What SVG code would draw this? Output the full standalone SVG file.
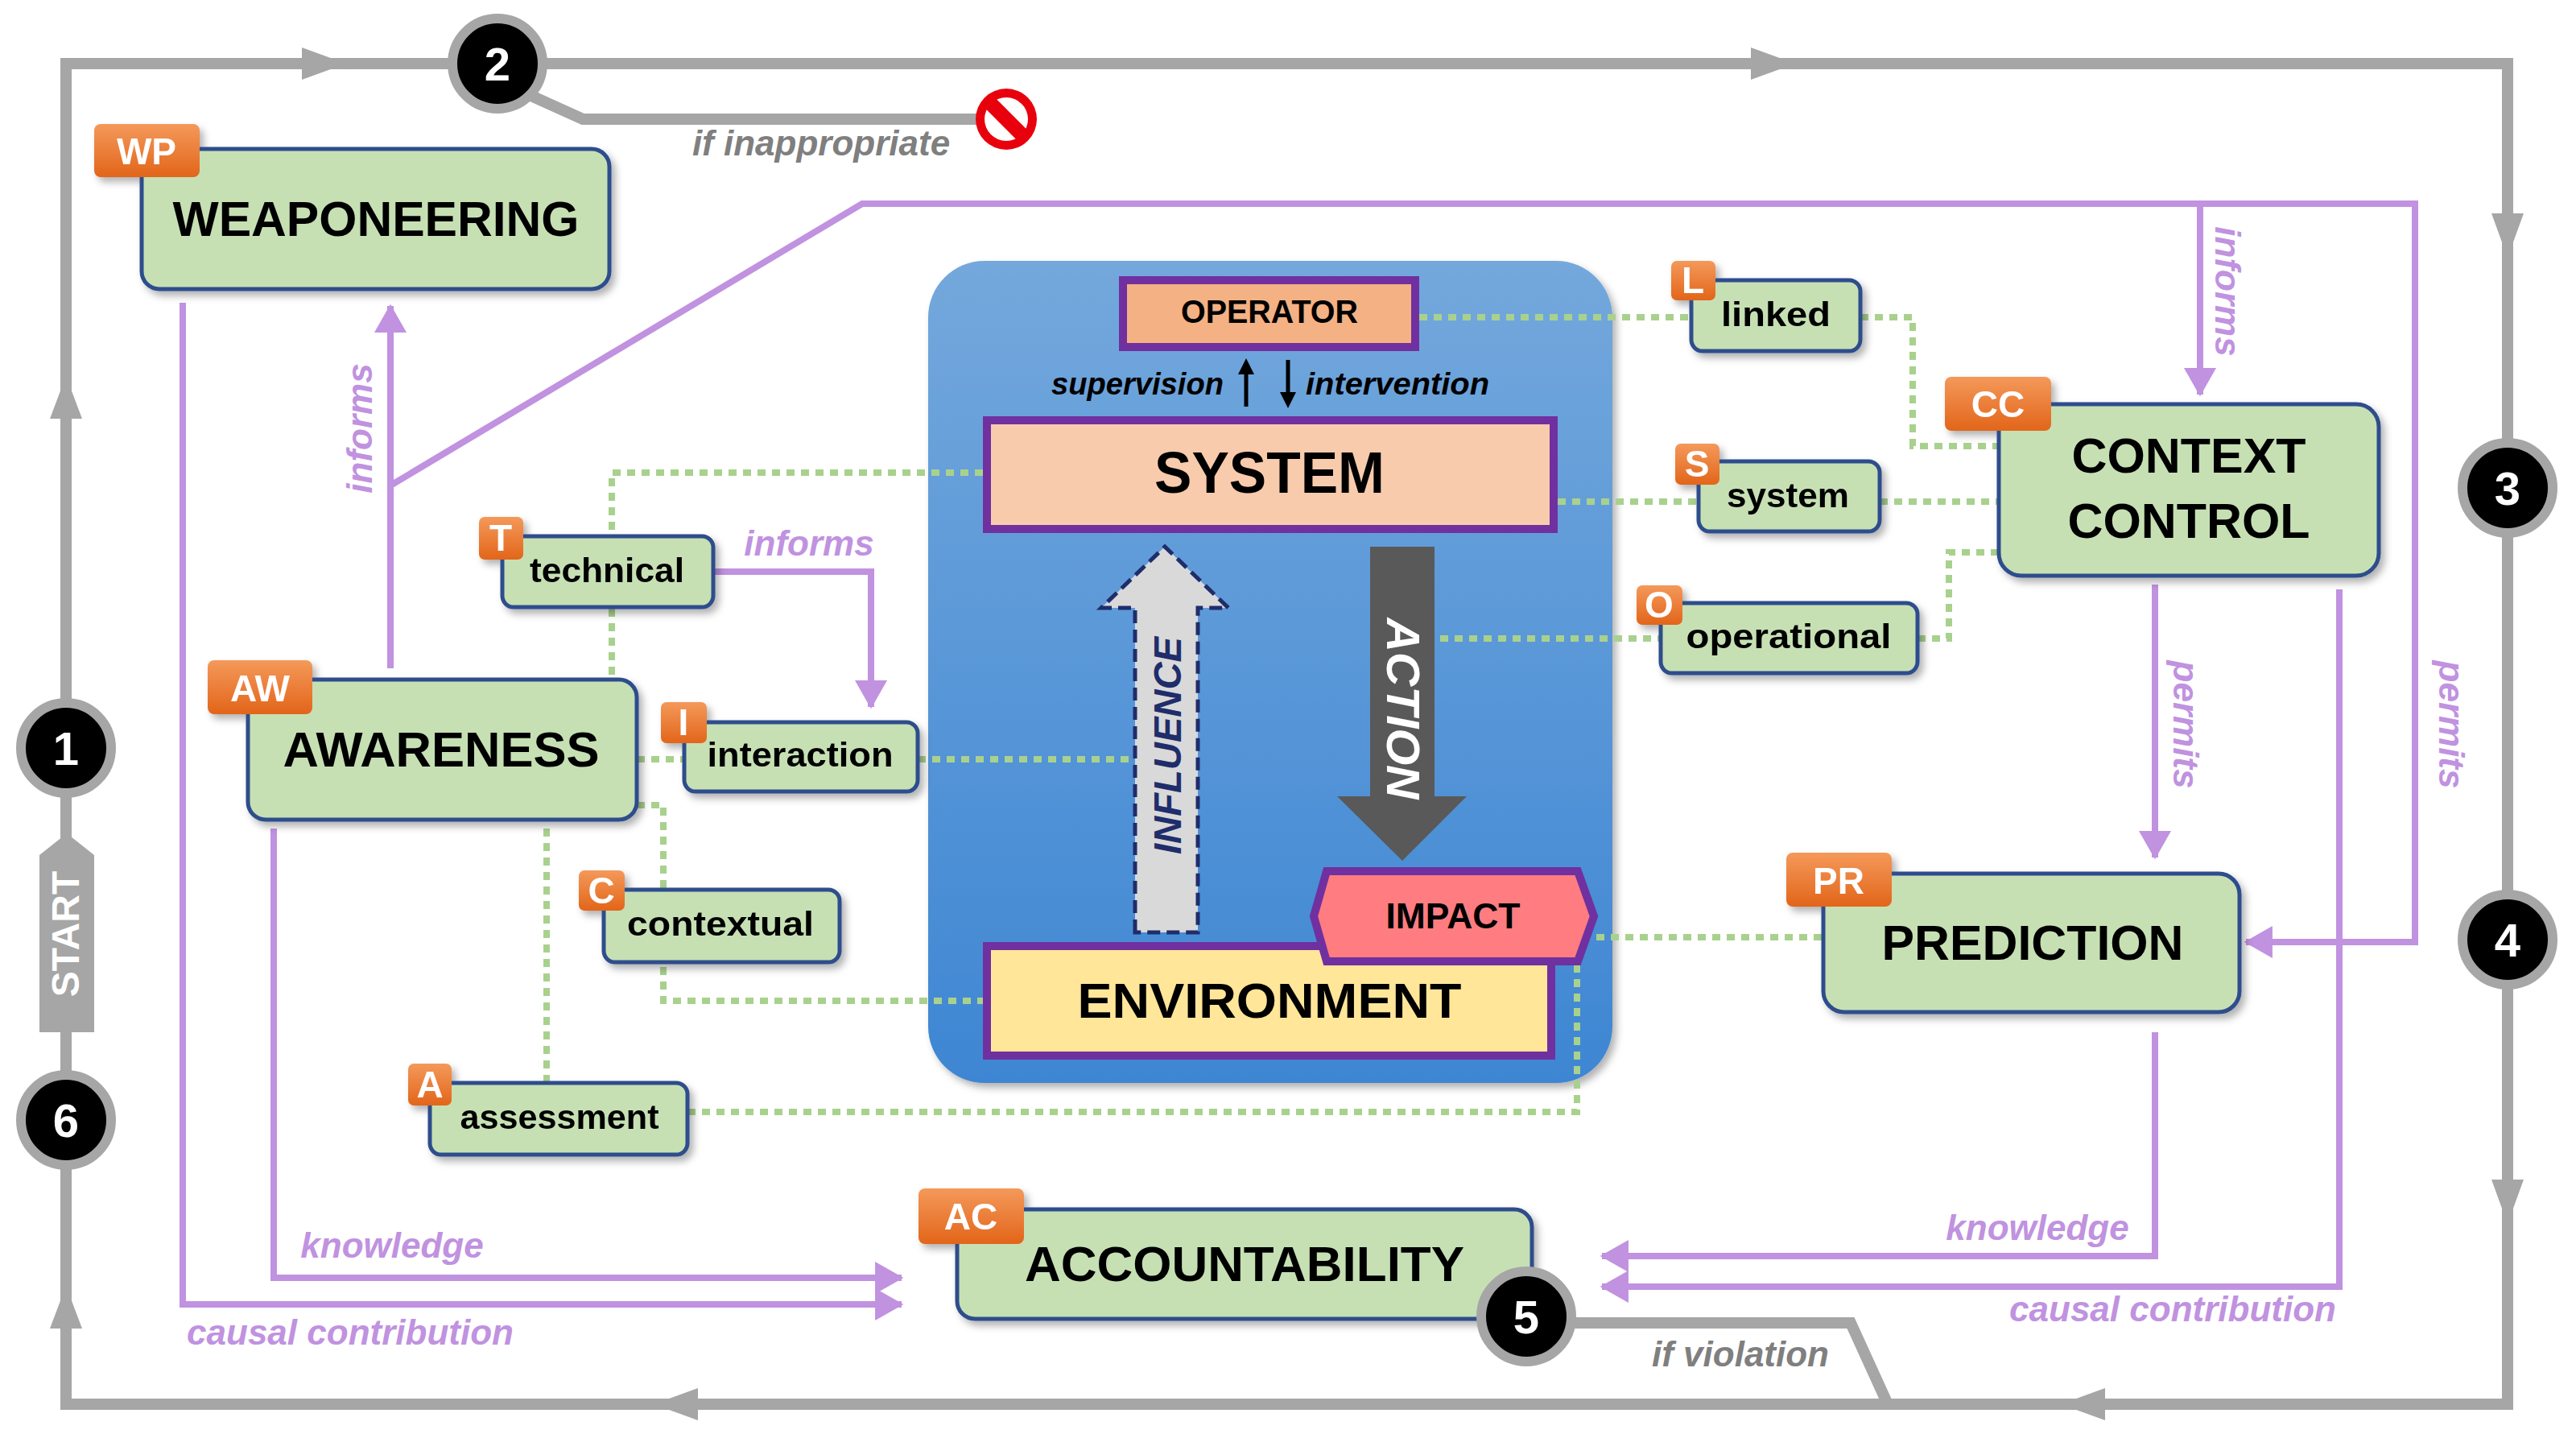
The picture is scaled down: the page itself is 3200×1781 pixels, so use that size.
<svg xmlns="http://www.w3.org/2000/svg" width="3200" height="1781" viewBox="0 0 3200 1781">
<defs>
<style>
.box{fill:#c6e0b4;stroke:#2f4d8c;stroke-width:5}
.badge{fill:url(#og)}
.bt{font-family:"Liberation Sans Narrow","Liberation Sans",sans-serif;font-weight:bold;fill:#fff;text-anchor:middle;font-size:46px}
.t{font-family:"Liberation Sans Narrow","Liberation Sans",sans-serif;font-weight:bold;fill:#000;text-anchor:middle}
.big{font-size:62px}
.sm{font-size:42px}
.pl{fill:none;stroke:#c092e0;stroke-width:8}
.pt{font-family:"Liberation Sans Narrow","Liberation Sans",sans-serif;font-weight:bold;font-style:italic;fill:#c092e0;font-size:44px;text-anchor:middle}
.gd{fill:none;stroke:#a9d18e;stroke-width:8;stroke-dasharray:10 8}
.gl{fill:none;stroke:#a6a6a6;stroke-width:14}
.ga{fill:#a6a6a6}
.gt{font-family:"Liberation Sans Narrow","Liberation Sans",sans-serif;font-weight:bold;font-style:italic;fill:#7f7f7f;font-size:44px;text-anchor:middle}
.ring{fill:#000;stroke:#a6a6a6;stroke-width:12}
.num{font-family:"Liberation Sans",sans-serif;font-weight:bold;fill:#fff;font-size:58px;text-anchor:middle}
.pb{stroke:#7030a0;stroke-width:10}
</style>
<linearGradient id="og" x1="0" y1="0" x2="0" y2="1"><stop offset="0" stop-color="#f4995a"/><stop offset="1" stop-color="#e2651a"/></linearGradient>
<linearGradient id="bg" x1="0" y1="0" x2="0" y2="1"><stop offset="0" stop-color="#74a8dc"/><stop offset="1" stop-color="#3e86d3"/></linearGradient>
<filter id="sh" x="-10%" y="-10%" width="130%" height="130%"><feDropShadow dx="5" dy="6" stdDeviation="5" flood-color="#000" flood-opacity="0.3"/></filter>
<marker id="pa" markerUnits="userSpaceOnUse" markerWidth="40" markerHeight="40" viewBox="0 0 30 34" refX="28" refY="17" orient="auto"><path d="M0,0 L30,17 L0,34 Z" fill="#c092e0"/></marker>
</defs>

<g id="frame">
<path class="gl" d="M82,1744 V79 H3115 V1744 Z"/>
<polygon class="ga" points="375,59 430,79 375,99"/>
<polygon class="ga" points="2175,59 2230,79 2175,99"/>
<polygon class="ga" points="3095,265 3135,265 3115,320"/>
<polygon class="ga" points="3095,1465 3135,1465 3115,1520"/>
<polygon class="ga" points="2615,1724 2560,1744 2615,1764"/>
<polygon class="ga" points="867,1724 812,1744 867,1764"/>
<polygon class="ga" points="62,1650 82,1597 102,1650"/>
<polygon class="ga" points="62,520 82,467 102,520"/>
<path class="gl" d="M640,110 L724,148 H1214"/>
<path class="gl" d="M1900,1643 H2299 L2345,1744"/>
<g id="noentry"><circle cx="1250" cy="148" r="38" fill="#e8000d"/><circle cx="1250" cy="148" r="27" fill="#fff"/><rect x="1216" y="139" width="68" height="18" fill="#e8000d" transform="rotate(45 1250 148)"/></g>
<text class="gt" x="1020" y="193">if inappropriate</text>
<text class="gt" x="2162" y="1697">if violation</text>
<polygon points="49,1062 83,1035 117,1062 117,1282 49,1282" fill="#a6a6a6"/>
<text x="83" y="1175" transform="rotate(-90 83 1160)" font-family="Liberation Sans,sans-serif" font-weight="bold" font-size="48" fill="#fff" text-anchor="middle">START</text>
</g>

<g id="panel"><rect x="1153" y="324" width="850" height="1021" rx="70" fill="url(#bg)" filter="url(#sh)"/></g>

<g id="connectors">
<path class="gd" d="M1221,587 H760 V844"/>
<path class="gd" d="M791,943 H850"/>
<path class="gd" d="M1140,943 H1410"/>
<path class="gd" d="M791,1000 H824 V1243 H1221"/>
<path class="gd" d="M679,1029 V1345"/>
<path class="gd" d="M854,1381 H1959 V1197"/>
<path class="gd" d="M1763,394 H2101"/>
<path class="gd" d="M2311,394 H2376 V554 H2483"/>
<path class="gd" d="M1935,623 H2110"/>
<path class="gd" d="M2335,623 H2483"/>
<path class="gd" d="M1789,793 H2063"/>
<path class="gd" d="M2382,793 H2421 V686 H2483"/>
<path class="gd" d="M1983,1164 H2265"/>
<path class="pl" d="M485,830 V380" marker-end="url(#pa)"/>
<path class="pl" d="M485,603 L1071,253 H3000 V1170 H2790" marker-end="url(#pa)"/>
<path class="pl" d="M2733,253 V490" marker-end="url(#pa)"/>
<path class="pl" d="M886,710 H1082 V878" marker-end="url(#pa)"/>
<path class="pl" d="M227,376 V1620 H1120" marker-end="url(#pa)"/>
<path class="pl" d="M340,1029 V1587 H1120" marker-end="url(#pa)"/>
<path class="pl" d="M2677,726 V1065" marker-end="url(#pa)"/>
<path class="pl" d="M2906,732 V1598 H1990" marker-end="url(#pa)"/>
<path class="pl" d="M2677,1282 V1560 H1990" marker-end="url(#pa)"/>
<text class="pt" transform="translate(462,532) rotate(-90)">informs</text>
<text class="pt" transform="translate(2752,362) rotate(90)">informs</text>
<text class="pt" transform="translate(2700,900) rotate(90)">permits</text>
<text class="pt" transform="translate(3030,900) rotate(90)">permits</text>
<text class="pt" x="1005" y="690">informs</text>
<text class="pt" x="487" y="1562">knowledge</text>
<text class="pt" x="435" y="1670">causal contribution</text>
<text class="pt" x="2531" y="1540">knowledge</text>
<text class="pt" x="2699" y="1641">causal contribution</text>
</g>

<g id="c1"><circle class="ring" cx="82" cy="929" r="56"/><text class="num" x="82" y="950">1</text></g>
<g id="c2"><circle class="ring" cx="618" cy="79" r="56"/><text class="num" x="618" y="100">2</text></g>
<g id="c3"><circle class="ring" cx="3115" cy="606" r="56"/><text class="num" x="3115" y="627">3</text></g>
<g id="c4"><circle class="ring" cx="3115" cy="1167" r="56"/><text class="num" x="3115" y="1188">4</text></g>
<g id="c6"><circle class="ring" cx="82" cy="1391" r="56"/><text class="num" x="82" y="1412">6</text></g>

<g id="operator"><rect class="pb" x="1395" y="348" width="363" height="83" fill="#f4b183"/><text class="t" x="1577" y="401" font-size="40" textLength="220" lengthAdjust="spacingAndGlyphs">OPERATOR</text></g>
<g id="supint">
<text x="1520" y="490" font-family="Liberation Sans Narrow,Liberation Sans,sans-serif" font-weight="bold" font-style="italic" font-size="38" text-anchor="end" textLength="214" lengthAdjust="spacingAndGlyphs">supervision</text>
<text x="1622" y="490" font-family="Liberation Sans Narrow,Liberation Sans,sans-serif" font-weight="bold" font-style="italic" font-size="38" textLength="228" lengthAdjust="spacingAndGlyphs">intervention</text>
<path d="M1548,505 V462" stroke="#000" stroke-width="5"/><polygon points="1538,465 1548,445 1558,465"/>
<path d="M1600,447 V490" stroke="#000" stroke-width="5"/><polygon points="1590,487 1600,507 1610,487"/>
</g>
<g id="system"><rect class="pb" x="1226" y="522" width="704" height="135" fill="#f8cbad"/><text class="t" x="1577" y="612" font-size="72" textLength="286" lengthAdjust="spacingAndGlyphs">SYSTEM</text></g>
<g id="influence"><polygon points="1410,1158 1410,755 1368,755 1447,679 1526,755 1488,755 1488,1158" fill="#d9d9d9" stroke="#1f2d6b" stroke-width="5" stroke-dasharray="16 8"/>
<text transform="translate(1467,926) rotate(-90)" font-family="Liberation Sans,sans-serif" font-weight="bold" font-style="italic" font-size="48" fill="#1f2d6b" text-anchor="middle" textLength="270" lengthAdjust="spacingAndGlyphs">INFLUENCE</text></g>
<g id="action"><polygon points="1702,679 1782,679 1782,989 1822,989 1742,1069 1661,989 1702,989" fill="#595959"/>
<text transform="translate(1723,880) rotate(90)" font-family="Liberation Sans,sans-serif" font-weight="bold" font-style="italic" font-size="58" fill="#fff" text-anchor="middle" textLength="225" lengthAdjust="spacingAndGlyphs">ACTION</text></g>
<g id="environment"><rect class="pb" x="1226" y="1175" width="701" height="136" fill="#ffe699"/><text class="t" x="1577" y="1264" font-size="62" textLength="477" lengthAdjust="spacingAndGlyphs">ENVIRONMENT</text></g>
<g id="impact"><polygon class="pb" points="1648,1082 1960,1082 1980,1138 1960,1194 1648,1194 1632,1138" fill="#ff7c80"/><text class="t" x="1805" y="1153" font-size="44" textLength="167" lengthAdjust="spacingAndGlyphs">IMPACT</text></g>

<g id="weaponeering" filter="url(#sh)"><rect class="box" x="176" y="185" width="581" height="174" rx="22"/><rect class="badge" x="117" y="154" width="131" height="66" rx="8"/><text class="bt" x="182" y="204">WP</text><text class="t big" x="467" y="293" textLength="505" lengthAdjust="spacingAndGlyphs">WEAPONEERING</text></g>
<g id="awareness" filter="url(#sh)"><rect class="box" x="308" y="844" width="483" height="174" rx="22"/><rect class="badge" x="258" y="820" width="130" height="67" rx="8"/><text class="bt" x="323" y="871">AW</text><text class="t big" x="548" y="952" textLength="393" lengthAdjust="spacingAndGlyphs">AWARENESS</text></g>
<g id="technical" filter="url(#sh)"><rect class="box" x="624" y="666" width="262" height="88" rx="14"/><rect class="badge" x="595" y="642" width="55" height="53" rx="7"/><text class="bt" x="622" y="684">T</text><text class="t sm" x="754" y="723" textLength="192" lengthAdjust="spacingAndGlyphs">technical</text></g>
<g id="interaction" filter="url(#sh)"><rect class="box" x="850" y="897" width="290" height="86" rx="14"/><rect class="badge" x="821" y="872" width="57" height="51" rx="7"/><text class="bt" x="849" y="913">I</text><text class="t sm" x="994" y="952" textLength="231" lengthAdjust="spacingAndGlyphs">interaction</text></g>
<g id="contextual" filter="url(#sh)"><rect class="box" x="750" y="1105" width="293" height="90" rx="14"/><rect class="badge" x="719" y="1081" width="57" height="50" rx="7"/><text class="bt" x="747" y="1122">C</text><text class="t sm" x="895" y="1162" textLength="232" lengthAdjust="spacingAndGlyphs">contextual</text></g>
<g id="assessment" filter="url(#sh)"><rect class="box" x="534" y="1345" width="320" height="89" rx="14"/><rect class="badge" x="507" y="1321" width="54" height="52" rx="7"/><text class="bt" x="534" y="1363">A</text><text class="t sm" x="695" y="1402" textLength="247" lengthAdjust="spacingAndGlyphs">assessment</text></g>
<g id="linked" filter="url(#sh)"><rect class="box" x="2101" y="348" width="210" height="88" rx="14"/><rect class="badge" x="2076" y="324" width="55" height="49" rx="7"/><text class="bt" x="2103" y="364">L</text><text class="t sm" x="2206" y="405" textLength="136" lengthAdjust="spacingAndGlyphs">linked</text></g>
<g id="systemn" filter="url(#sh)"><rect class="box" x="2110" y="573" width="225" height="87" rx="14"/><rect class="badge" x="2081" y="551" width="55" height="51" rx="7"/><text class="bt" x="2108" y="592">S</text><text class="t sm" x="2221" y="630" textLength="152" lengthAdjust="spacingAndGlyphs">system</text></g>
<g id="operational" filter="url(#sh)"><rect class="box" x="2063" y="749" width="319" height="87" rx="14"/><rect class="badge" x="2033" y="727" width="57" height="49" rx="7"/><text class="bt" x="2061" y="767">O</text><text class="t sm" x="2222" y="805" textLength="255" lengthAdjust="spacingAndGlyphs">operational</text></g>
<g id="contextcontrol" filter="url(#sh)"><rect class="box" x="2483" y="502" width="472" height="213" rx="28"/><rect class="badge" x="2416" y="468" width="132" height="67" rx="8"/><text class="bt" x="2482" y="518">CC</text><text class="t big" x="2719" y="587" textLength="291" lengthAdjust="spacingAndGlyphs">CONTEXT</text><text class="t big" x="2719" y="668" textLength="301" lengthAdjust="spacingAndGlyphs">CONTROL</text></g>
<g id="prediction" filter="url(#sh)"><rect class="box" x="2265" y="1085" width="517" height="172" rx="26"/><rect class="badge" x="2219" y="1059" width="131" height="67" rx="8"/><text class="bt" x="2284" y="1110">PR</text><text class="t big" x="2525" y="1192" textLength="375" lengthAdjust="spacingAndGlyphs">PREDICTION</text></g>
<g id="accountability" filter="url(#sh)"><rect class="box" x="1189" y="1502" width="714" height="136" rx="22"/><rect class="badge" x="1141" y="1476" width="131" height="69" rx="8"/><text class="bt" x="1206" y="1527">AC</text><text class="t big" x="1546" y="1591" textLength="546" lengthAdjust="spacingAndGlyphs">ACCOUNTABILITY</text></g>
<g id="c5"><circle class="ring" cx="1896" cy="1635" r="56"/><text class="num" x="1896" y="1656">5</text></g>
</svg>
